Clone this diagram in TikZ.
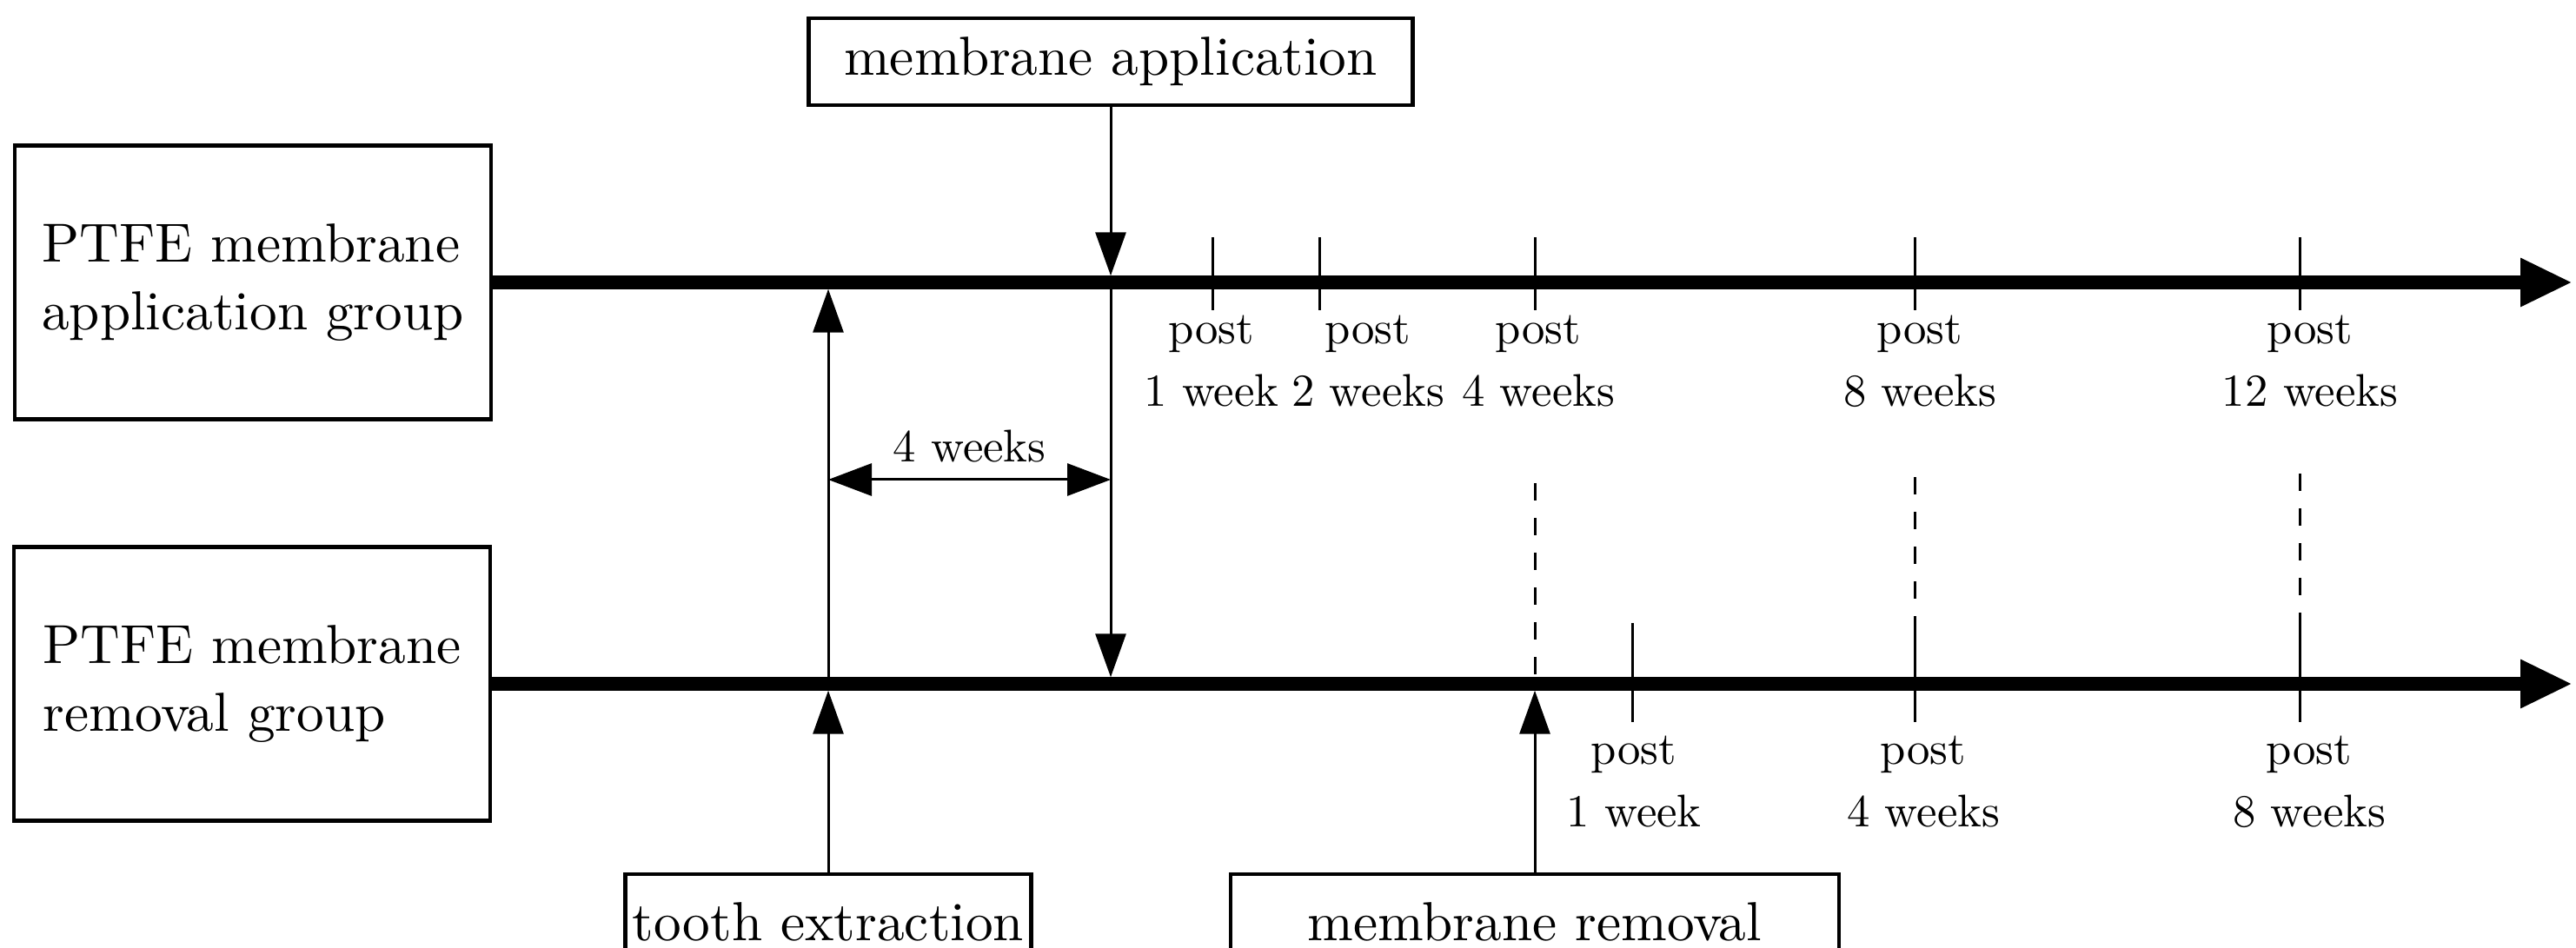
\documentclass[tikz,border=0pt]{standalone}
\usepackage{fontspec}
\setmainfont{lmroman10-regular}[Extension=.otf]
\usetikzlibrary{positioning,arrows.meta}

\begin{document}
\begin{tikzpicture}[
  every node/.style={font=\fontsize{15}{20.5}\selectfont, align=center},
  box/.style={rectangle, draw=black, line width=1.2pt, inner sep=2pt},
  grp/.style={box, minimum width=5.48cm, minimum height=3.15cm,
              align=left, font=\fontsize{18}{22}\selectfont},
  evt/.style={box, minimum height=1.0cm, font=\fontsize{18}{22}\selectfont},
  tline/.style={line width=4.5pt, -{Triangle[length=6mm, width=5.2mm]}},
  arr/.style={-{Triangle[length=5mm, width=3.5mm]}, line width=0.85pt, shorten >=2.2pt},
  dim/.style={{Triangle[length=5mm, width=3.7mm]}-{Triangle[length=5mm, width=3.7mm]},
              line width=0.85pt},
  tic/.style={line width=0.85pt},
  lnk/.style={line width=0.85pt, dash pattern=on 2mm off 2mm}
]
\useasboundingbox (0,0) rectangle (29.64,10.91);
% Left column: the two groups
\node[grp] (apgrp) at (2.91, 7.66) {PTFE membrane\\application group};
\node[grp] (rmgrp) at (2.90, 3.04) {PTFE membrane\\removal group};
% Events above and below the timelines
\node[evt, minimum width=6.95cm] (apply)  at (12.78, 10.20) {membrane application};
\node[evt, minimum width=4.67cm, minimum height=1.1cm] (tooth)  at (9.53, 0.30) {tooth extraction};
\node[evt, minimum width=7.0cm, minimum height=1.1cm]  (remove) at (17.66, 0.30) {membrane removal};
% Points on the timelines
\coordinate (end1) at (29.60, 7.66);
\coordinate (end2) at (29.60, 3.04);
\coordinate (ext1) at (9.53, 7.66);
\coordinate (ext2) at (9.53, 3.04);
\coordinate (app1) at (12.78, 7.66);
\coordinate (app2) at (12.78, 3.04);
\coordinate (rem2) at (17.66, 3.04);
\coordinate (wk-l) at (9.53, 5.39);
\coordinate (wk-r) at (12.78, 5.39);
% Event arrows
\draw[arr] (apply) -- (app1);
\draw[arr] (app1)  -- (app2);
\draw[arr] (tooth) -- (ext2);
\draw[arr] (ext2)  -- (ext1);
\draw[arr] (remove) -- (rem2);
\draw[dim] (wk-l) -- node[above=2pt] {4 weeks} (wk-r);
% Timelines
\draw[tline] (apgrp.east) -- (end1);
\draw[tline] (rmgrp.east) -- (end2);
% Ticks, top group
\draw[tic] (13.95, 8.18) -- (13.95, 7.34);
\draw[tic] (15.18, 8.18) -- (15.18, 7.34);
\draw[tic] (17.66, 8.18) -- (17.66, 7.34);
\draw[tic] (22.03, 8.18) -- (22.03, 7.34);
\draw[tic] (26.46, 8.18) -- (26.46, 7.34);
\node (p1a)  at (13.94, 6.75) {post\\1 week};
\node (p2a)  at (15.74, 6.75) {post\\2 weeks};
\node (p4a)  at (17.70, 6.75) {post\\4 weeks};
\node (p8a)  at (22.09, 6.75) {post\\8 weeks};
\node (p12a) at (26.58, 6.75) {post\\12 weeks};
% Ticks, bottom group
\draw[tic] (18.78, 3.74) -- (18.78, 2.60);
\draw[tic] (22.03, 3.74) -- (22.03, 2.60);
\draw[tic] (26.46, 3.74) -- (26.46, 2.60);
\node (p1b) at (18.80, 1.91) {post\\1 week};
\node (p4b) at (22.13, 1.91) {post\\4 weeks};
\node (p8b) at (26.57, 1.91) {post\\8 weeks};
% Dashed links between the groups
\draw[lnk] (17.66, 5.35) -- (rem2);
\draw[lnk] (22.03, 5.42) -- (22.03, 3.74);
\draw[lnk] (26.46, 5.46) -- (26.46, 3.74);
\end{tikzpicture}
\end{document}
